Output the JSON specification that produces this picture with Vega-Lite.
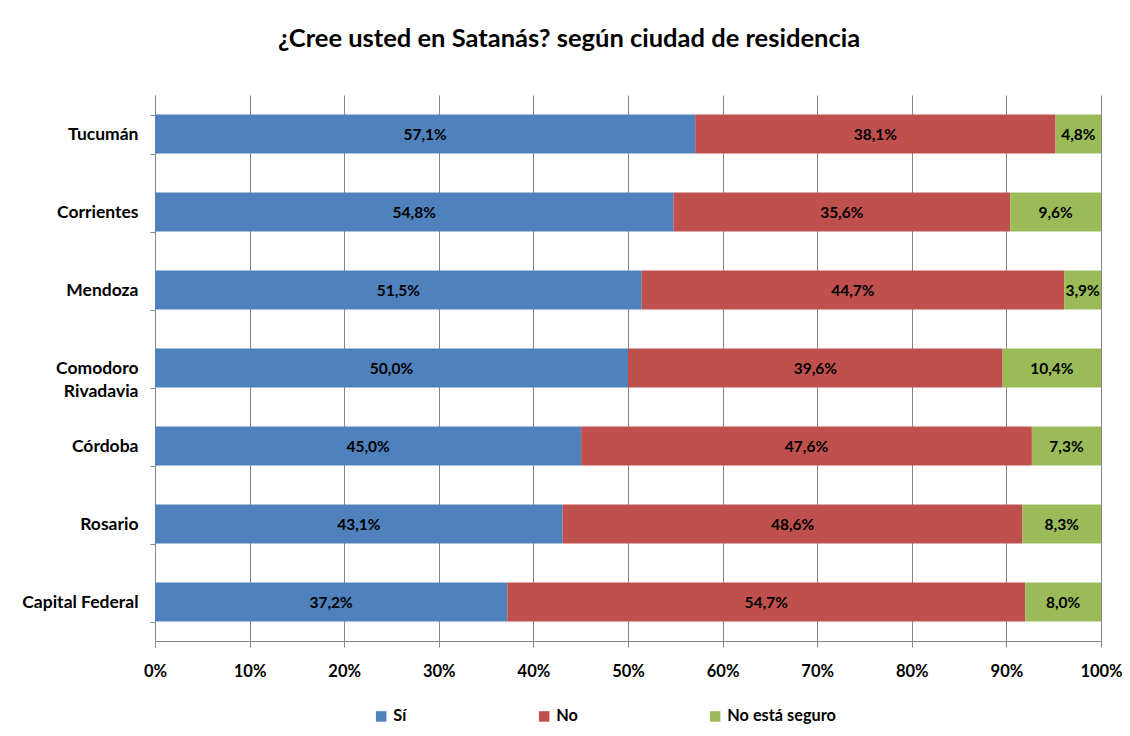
{
  "$schema": "https://vega.github.io/schema/vega-lite/v6.json",
  "width": 946,
  "height": 546,
  "autosize": {"type": "none"},
  "padding": {"left": 155, "top": 95, "right": 29, "bottom": 95},
  "background": "white",
  "config": {
    "font": "Lato",
    "view": {"stroke": null},
    "locale": {"number": {"decimal": ",", "thousands": ".", "grouping": [3], "currency": ["", " €"]}}
  },
  "title": {
    "text": "¿Cree usted en Satanás? según ciudad de residencia",
    "fontSize": 25.5,
    "fontWeight": "bold",
    "color": "black",
    "anchor": "middle",
    "dx": -59,
    "offset": 34
  },
  "data": {
    "values": [
      {"ciudad": "Tucumán", "respuesta": "Sí", "orden": 1, "valor": 0.571},
      {"ciudad": "Tucumán", "respuesta": "No", "orden": 2, "valor": 0.381},
      {"ciudad": "Tucumán", "respuesta": "No está seguro", "orden": 3, "valor": 0.048},
      {"ciudad": "Corrientes", "respuesta": "Sí", "orden": 1, "valor": 0.548},
      {"ciudad": "Corrientes", "respuesta": "No", "orden": 2, "valor": 0.356},
      {"ciudad": "Corrientes", "respuesta": "No está seguro", "orden": 3, "valor": 0.096},
      {"ciudad": "Mendoza", "respuesta": "Sí", "orden": 1, "valor": 0.515},
      {"ciudad": "Mendoza", "respuesta": "No", "orden": 2, "valor": 0.447},
      {"ciudad": "Mendoza", "respuesta": "No está seguro", "orden": 3, "valor": 0.039},
      {"ciudad": "Comodoro Rivadavia", "respuesta": "Sí", "orden": 1, "valor": 0.500},
      {"ciudad": "Comodoro Rivadavia", "respuesta": "No", "orden": 2, "valor": 0.396},
      {"ciudad": "Comodoro Rivadavia", "respuesta": "No está seguro", "orden": 3, "valor": 0.104},
      {"ciudad": "Córdoba", "respuesta": "Sí", "orden": 1, "valor": 0.450},
      {"ciudad": "Córdoba", "respuesta": "No", "orden": 2, "valor": 0.476},
      {"ciudad": "Córdoba", "respuesta": "No está seguro", "orden": 3, "valor": 0.073},
      {"ciudad": "Rosario", "respuesta": "Sí", "orden": 1, "valor": 0.431},
      {"ciudad": "Rosario", "respuesta": "No", "orden": 2, "valor": 0.486},
      {"ciudad": "Rosario", "respuesta": "No está seguro", "orden": 3, "valor": 0.083},
      {"ciudad": "Capital Federal", "respuesta": "Sí", "orden": 1, "valor": 0.372},
      {"ciudad": "Capital Federal", "respuesta": "No", "orden": 2, "valor": 0.547},
      {"ciudad": "Capital Federal", "respuesta": "No está seguro", "orden": 3, "valor": 0.080}
    ]
  },
  "transform": [
    {"stack": "valor", "groupby": ["ciudad"], "sort": [{"field": "orden"}], "offset": "normalize", "as": ["x0", "x1"]},
    {"calculate": "(datum.x0 + datum.x1) / 2", "as": "xmid"}
  ],
  "encoding": {
    "y": {
      "field": "ciudad",
      "type": "nominal",
      "sort": ["Tucumán", "Corrientes", "Mendoza", "Comodoro Rivadavia", "Córdoba", "Rosario", "Capital Federal"],
      "scale": {"paddingInner": 0.5, "paddingOuter": 0.25},
      "axis": {
        "title": null,
        "tickBand": "extent",
        "tickSize": 5,
        "tickColor": "#868686",
        "domainColor": "#868686",
        "labelPadding": 12,
        "labelFontSize": 17.5,
        "labelFontWeight": "bold",
        "labelColor": "black",
        "labelExpr": "datum.value == 'Comodoro Rivadavia' ? ['Comodoro', 'Rivadavia'] : datum.value",
        "labelLineHeight": 23
      }
    }
  },
  "layer": [
    {
      "mark": {"type": "bar"},
      "encoding": {
        "x": {
          "field": "x0",
          "type": "quantitative",
          "scale": {"domain": [0, 1], "nice": false},
          "axis": {
            "title": null,
            "format": "%",
            "values": [0, 0.1, 0.2, 0.3, 0.4, 0.5, 0.6, 0.7, 0.8, 0.9, 1],
            "grid": true,
            "gridColor": "#868686",
            "gridWidth": 1,
            "tickColor": "#868686",
            "tickSize": 6,
            "domainColor": "#868686",
            "labelFontSize": 16.5,
            "labelFontWeight": "bold",
            "labelColor": "black",
            "labelPadding": 16,
            "labelFlush": false,
            "labelOverlap": false,
            "labelBound": false
          }
        },
        "x2": {"field": "x1"},
        "color": {
          "field": "respuesta",
          "type": "nominal",
          "scale": {"domain": ["Sí", "No", "No está seguro"], "range": ["#4F81BD", "#C0504D", "#9BBB59"]},
          "legend": {
            "title": null,
            "orient": "none",
            "legendX": 218,
            "legendY": 613,
            "direction": "horizontal",
            "symbolType": "square",
            "symbolSize": 110,
            "symbolStrokeWidth": 0,
            "labelFontSize": 16.3,
            "labelFontWeight": "bold",
            "labelColor": "black",
            "labelOffset": 4,
            "columnPadding": 129
          }
        }
      }
    },
    {
      "mark": {"type": "text", "fontSize": 15.5, "fontWeight": "bold", "color": "black", "baseline": "middle", "align": "center", "dy": 1},
      "encoding": {
        "x": {
          "field": "xmid",
          "type": "quantitative",
          "axis": {
            "title": null,
            "format": "%",
            "values": [0, 0.1, 0.2, 0.3, 0.4, 0.5, 0.6, 0.7, 0.8, 0.9, 1],
            "grid": true,
            "gridColor": "#868686",
            "gridWidth": 1,
            "tickColor": "#868686",
            "tickSize": 6,
            "domainColor": "#868686",
            "labelFontSize": 16.5,
            "labelFontWeight": "bold",
            "labelColor": "black",
            "labelPadding": 16,
            "labelFlush": false,
            "labelOverlap": false,
            "labelBound": false
          }
        },
        "text": {"field": "valor", "type": "quantitative", "format": ".1%"}
      }
    }
  ]
}
